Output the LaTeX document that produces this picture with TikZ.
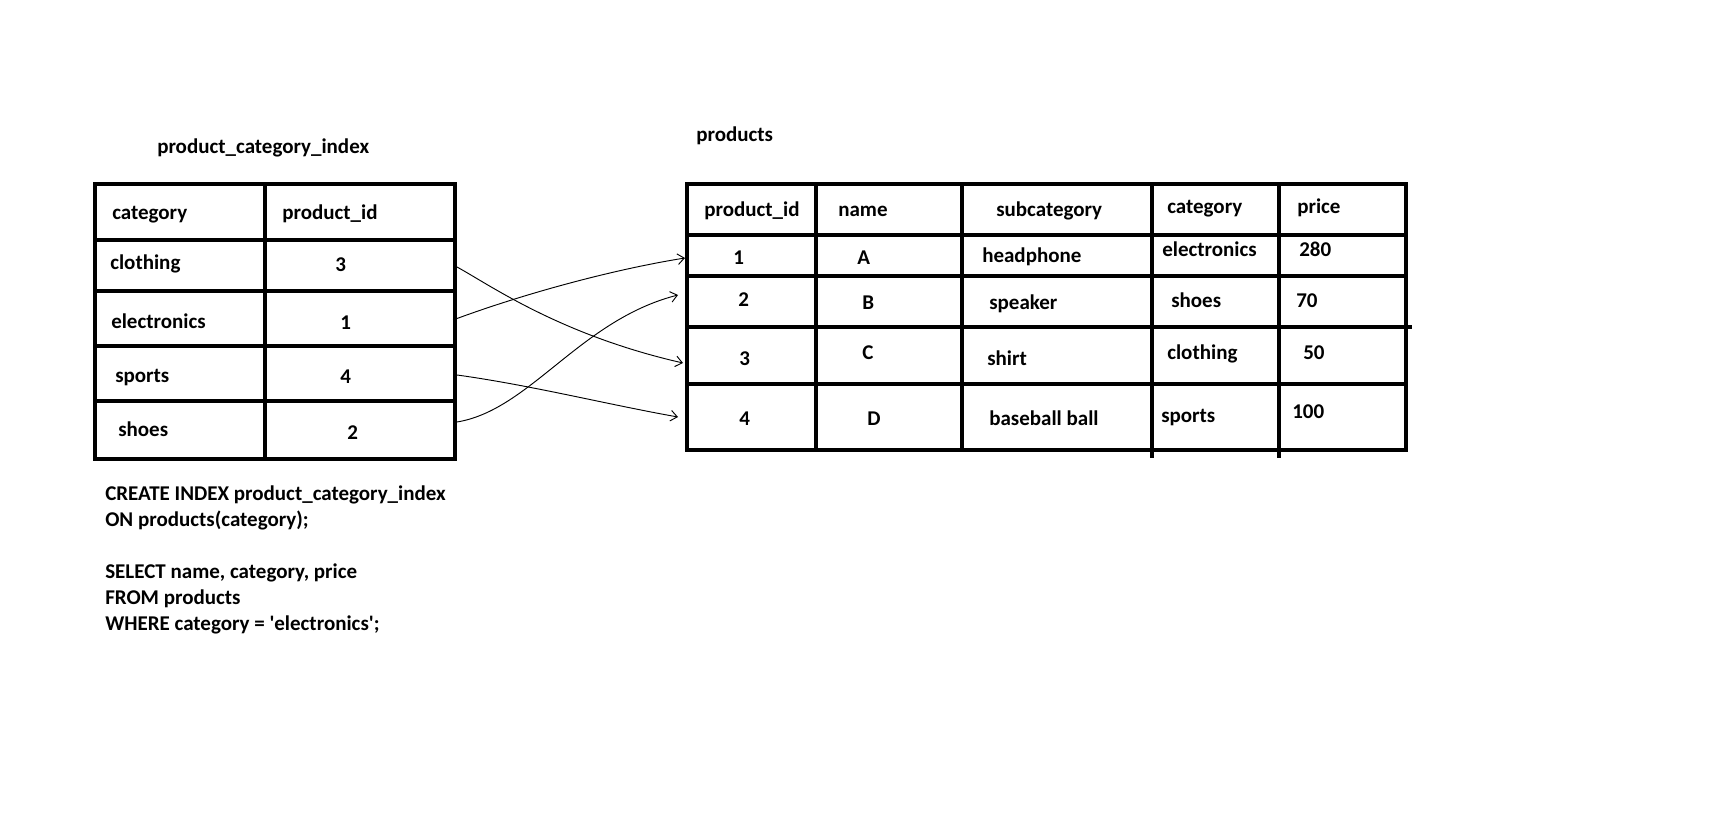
\documentclass[tikz,border=0pt]{standalone}
\usepackage{fontspec}
\setmainfont{Carlito}
\usepackage{tikz}
\usetikzlibrary{arrows.meta}

\begin{document}
\begin{tikzpicture}[x=0.75pt,y=-0.75pt,
    font=\fontsize{15.75}{19.5}\selectfont\bfseries,
    tabline/.style={line width=3pt},
    cell/.style={anchor=west,inner sep=0pt,text height=12pt,text depth=2pt},
    link/.style={-{Straight Barb[length=5pt,width=8pt]},line width=0.7pt}]
\fill[white] (0,0) rectangle (1730,816);
\useasboundingbox (0,0) rectangle (1730,816);

% index table
\node[cell] (ititle) at (157,147) {product\_category\_index};
\draw[tabline] (95,184) rectangle (455,459);
\draw[tabline] (265,184) -- (265,459);
\draw[tabline] (95,240) -- (455,240) (95,291) -- (455,291)
  (95,346) -- (455,346) (95,401) -- (455,401);
\node[cell] (ihcat) at (112,213) {category};
\node[cell] (ihid) at (282,213) {product\_id};
\node[cell] (icat1) at (110,263) {clothing};
\node[cell] (iid1) at (335,265) {3};
\node[cell] (icat2) at (111,322) {electronics};
\node[cell] (iid2) at (340,323) {1};
\node[cell] (icat3) at (115,376) {sports};
\node[cell] (iid3) at (340,377) {4};
\node[cell] (icat4) at (118,430) {shoes};
\node[cell] (iid4) at (347,433) {2};

% products table
\node[cell] (ptitle) at (696,135) {products};
\draw[tabline] (687,184) rectangle (1406,450);
\draw[tabline] (816,184) -- (816,450) (962,184) -- (962,450)
  (1152,184) -- (1152,458) (1279,184) -- (1279,458);
\draw[tabline] (687,235) -- (1406,235) (687,276) -- (1406,276)
  (687,327) -- (1412,327) (687,384) -- (1406,384);
\node[cell] (phid) at (704,210) {product\_id};
\node[cell] (phname) at (838,210) {name};
\node[cell] (phsub) at (996,210) {subcategory};
\node[cell] (phcat) at (1167,207) {category};
\node[cell] (phprice) at (1297,207) {price};
\node[cell] (pid1) at (733,258) {1};
\node[cell] (pname1) at (857,258) {A};
\node[cell] (psub1) at (982,256) {headphone};
\node[cell] (pcat1) at (1162,250) {electronics};
\node[cell] (pprice1) at (1299,250) {280};
\node[cell] (pid2) at (738,300) {2};
\node[cell] (pname2) at (862,303) {B};
\node[cell] (psub2) at (989,303) {speaker};
\node[cell] (pcat2) at (1171,301) {shoes};
\node[cell] (pprice2) at (1296,301) {70};
\node[cell] (pid3) at (739,359) {3};
\node[cell] (pname3) at (862,353) {C};
\node[cell] (psub3) at (987,359) {shirt};
\node[cell] (pcat3) at (1167,353) {clothing};
\node[cell] (pprice3) at (1303,353) {50};
\node[cell] (pid4) at (739,419) {4};
\node[cell] (pname4) at (867,419) {D};
\node[cell] (psub4) at (989,419) {baseball ball};
\node[cell] (pcat4) at (1161,416) {sports};
\node[cell] (pprice4) at (1292,412) {100};

% pointers
\coordinate (out1) at (457,267);
\coordinate (out2) at (453,320);
\coordinate (out3) at (457,375);
\coordinate (out4) at (457,422);
\coordinate (in1) at (685,258);
\coordinate (in2) at (678,295);
\coordinate (in3) at (683,363);
\coordinate (in4) at (678,417);
\draw[link] (out1) .. controls (490,285) and (560,335) .. (in3);
\draw[link] (out2) .. controls (520,295) and (610,270) .. (in1);
\draw[link] (out3) .. controls (530,385) and (610,405) .. (in4);
\draw[link] (out4) .. controls (530,410) and (580,320) .. (in2);

% queries
\node[anchor=north west,inner sep=0pt,align=left] (sql) at (105,485)
  {CREATE INDEX product\_category\_index\\ON products(category);\\[19.5pt]
   SELECT name, category, price\\FROM products\\WHERE category = \textquotesingle electronics\textquotesingle;};
\end{tikzpicture}
\end{document}
